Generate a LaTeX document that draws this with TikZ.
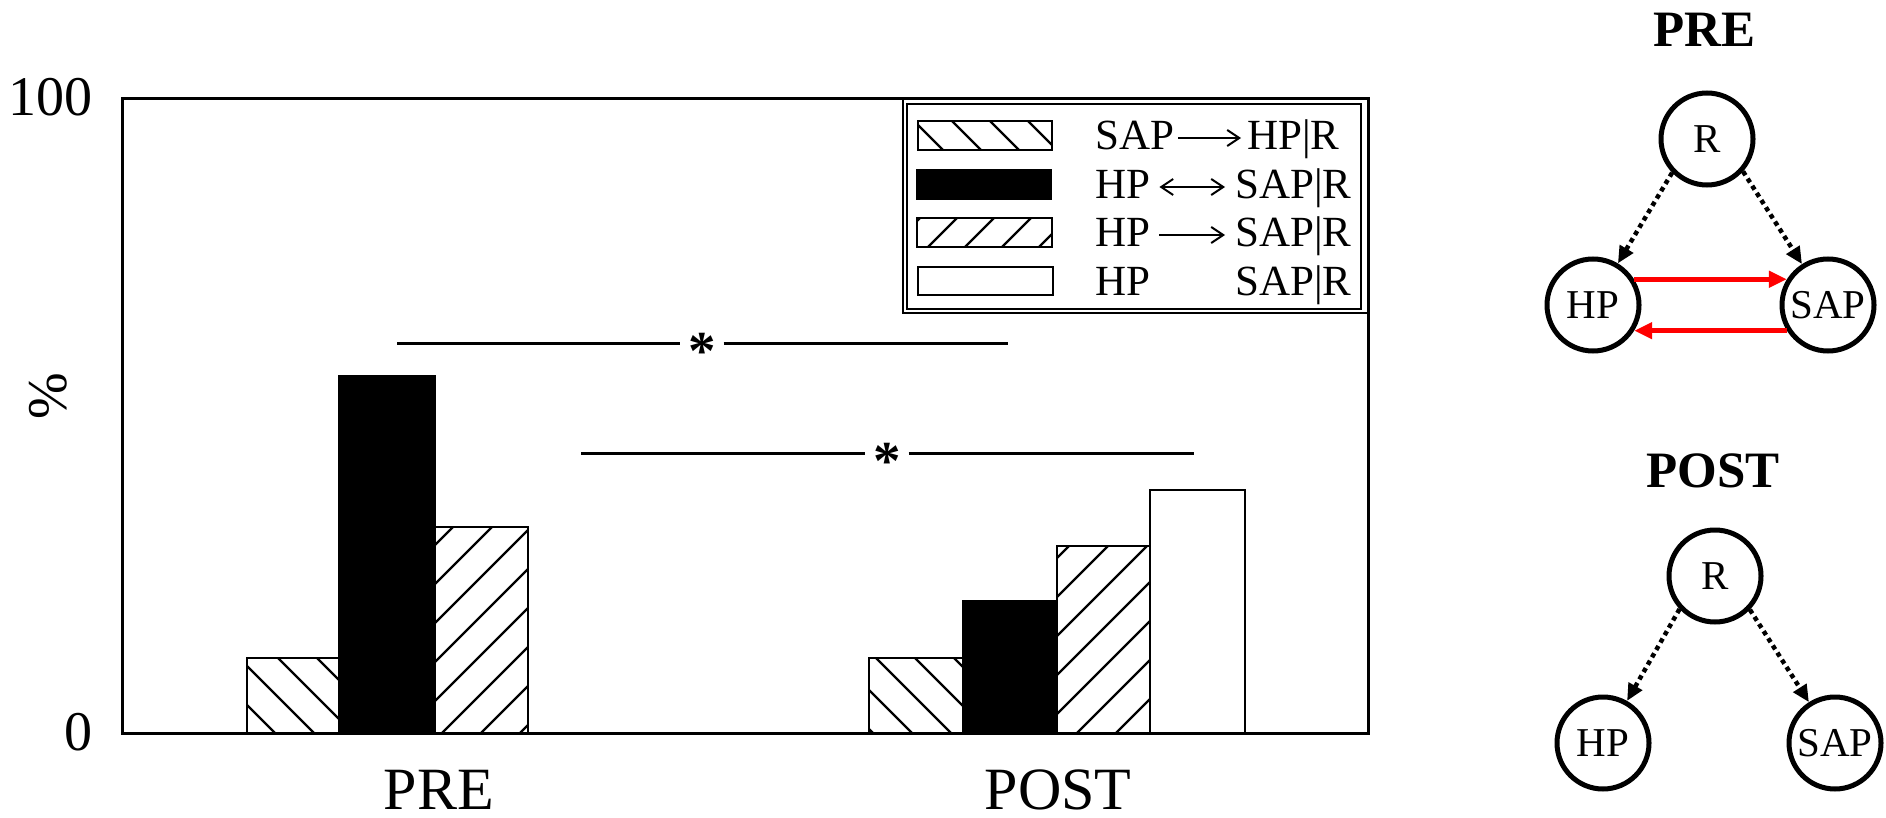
\documentclass[tikz,border=0pt]{standalone}
\usepackage{fontspec}
\setmainfont{Liberation Serif}
\usetikzlibrary{arrows.meta,calc}
\newcommand\myhatchbk[6]{% x1,y1,x2,y2,c0,step : lines x-y=c
  \begin{scope}
    \clip (#1,#2) rectangle (#3,#4);
    \foreach \k in {-14,...,14}{\draw[hatchline] ({#5+#6*\k+#2-80},{#2-80}) -- ({#5+#6*\k+#4+80},{#4+80});}
  \end{scope}}
\newcommand\myhatchfw[6]{% x1,y1,x2,y2,d0,step : lines x+y=d
  \begin{scope}
    \clip (#1,#2) rectangle (#3,#4);
    \foreach \k in {-14,...,14}{\draw[hatchline] ({#5+#6*\k-#2+80},{#2-80}) -- ({#5+#6*\k-#4-80},{#4+80});}
  \end{scope}}
\begin{document}
\begin{tikzpicture}[x=1pt,y=-1pt,
  frame/.style={line width=3pt},
  barbox/.style={draw=black,line width=2.6pt},
  hatchline/.style={line width=2.4pt},
  sigline/.style={line width=3pt},
  ticklab/.style={font=\fontsize{56}{60}\selectfont,anchor=east,inner sep=0pt},
  grouplab/.style={font=\fontsize{60}{66}\selectfont,inner sep=0pt},
  legtext/.style={font=\fontsize{43}{48}\selectfont,anchor=base west,inner sep=0pt},
  legarrow/.style={line width=2pt,-{Straight Barb[length=12pt,width=16pt]}},
  legdarrow/.style={line width=2pt,{Straight Barb[length=12pt,width=16pt]}-{Straight Barb[length=12pt,width=16pt]}},
  starlab/.style={font=\bfseries\fontsize{55}{60}\selectfont,inner sep=0pt,minimum width=43pt,anchor=base},
  netnode/.style={circle,draw,line width=5pt,minimum size=92pt,inner sep=0pt,font=\fontsize{41}{46}\selectfont},
  nettitle/.style={font=\bfseries\fontsize{51}{56}\selectfont,inner sep=0pt},
  dotarrow/.style={line width=4.5pt,dash pattern=on 4.5pt off 4pt,-{Triangle[length=17pt,width=15pt]}},
  redarrow/.style={draw=red,line width=4.5pt,-{Triangle[length=18pt,width=16pt]}}
]
\useasboundingbox (0,0) rectangle (1886,818);

% ---- bars PRE ----
\myhatchbk{247}{658}{339}{733}{-380}{39}
\draw[barbox] (247,658) rectangle (339,733);
\draw[barbox,fill=black] (339,376) rectangle (435,733);
\myhatchfw{435}{527}{528}{733}{980}{39}
\draw[barbox] (435,527) rectangle (528,733);
% ---- bars POST ----
\myhatchbk{869}{658}{963}{733}{257}{39}
\draw[barbox] (869,658) rectangle (963,733);
\draw[barbox,fill=black] (963,601) rectangle (1057,733);
\myhatchfw{1057}{546}{1150}{733}{1654}{39}
\draw[barbox] (1057,546) rectangle (1150,733);
\draw[barbox] (1150,490) rectangle (1245,733);

% ---- frame ----
\draw[frame] (122,99) rectangle (1368,733);

% ---- axis labels ----
\node[ticklab] (t100) at (93,97) {100};
\node[ticklab] (t0) at (93,732) {0};
\node[rotate=90,font=\fontsize{56}{60}\selectfont,inner sep=0pt] (ylab) at (48,396) {\%};
\node[grouplab] (gpre) at (439,790) {PRE};
\node[grouplab] (gpost) at (1058,790) {POST};

% ---- significance ----
\node[starlab] (st1) at (702,369) {*};
\coordinate (s1l) at (397,343);
\coordinate (s1r) at (1008,343);
\draw[sigline] (s1l) -- (st1.west |- s1l);
\draw[sigline] (st1.east |- s1r) -- (s1r);
\node[starlab] (st2) at (887,479) {*};
\coordinate (s2l) at (581,453);
\coordinate (s2r) at (1194,453);
\draw[sigline] (s2l) -- (st2.west |- s2l);
\draw[sigline] (st2.east |- s2r) -- (s2r);

% ---- legend ----
\draw[line width=2.2pt,fill=white] (903,99) rectangle (1368,313);
\draw[line width=2.2pt] (907,104) rectangle (1361,309);
\myhatchbk{918}{121}{1052}{150}{831}{38}
\draw[barbox] (918,121) rectangle (1052,150);
\draw[barbox,fill=black] (917,170) rectangle (1051,199);
\myhatchfw{917}{218}{1052}{247}{1175}{37}
\draw[barbox] (917,218) rectangle (1052,247);
\draw[barbox] (918,267) rectangle (1053,295);

\node[legtext] (l1a) at (1095,150) {SAP};
\node[legtext] (l1b) at (1247,150) {HP|R};
\node[legtext] (l2a) at (1095,199) {HP};
\node[legtext] (l2b) at (1235,199) {SAP|R};
\node[legtext] (l3a) at (1095,247) {HP};
\node[legtext] (l3b) at (1235,247) {SAP|R};
\node[legtext] (l4a) at (1095,295) {HP};
\node[legtext] (l4b) at (1235,295) {SAP|R};
\draw[legarrow] ([xshift=4pt,yshift=12pt]l1a.base east) -- ([xshift=-6pt,yshift=12pt]l1b.base west);
\draw[legdarrow] ([xshift=9pt,yshift=12pt]l2a.base east) -- ([xshift=-10pt,yshift=12pt]l2b.base west);
\draw[legarrow] ([xshift=9pt,yshift=12pt]l3a.base east) -- ([xshift=-10pt,yshift=12pt]l3b.base west);

% ---- PRE network ----
\node[nettitle] (tpre) at (1704,30) {PRE};
\node[netnode] (R1) at (1707,139) {R};
\node[netnode] (HP1) at (1593,305) {HP};
\node[netnode] (SAP1) at (1828,305) {SAP};
\draw[dotarrow] (R1.224) -- (HP1);
\draw[dotarrow] (R1.318) -- (SAP1);
\draw[redarrow] (HP1.32) -- (SAP1.148);
\draw[redarrow] (SAP1.212) -- (HP1.328);

% ---- POST network ----
\node[nettitle] (tpost) at (1713,471) {POST};
\node[netnode] (R2) at (1715,576) {R};
\node[netnode] (HP2) at (1603,743) {HP};
\node[netnode] (SAP2) at (1835,743) {SAP};
\draw[dotarrow] (R2.223) -- (HP2);
\draw[dotarrow] (R2.316) -- (SAP2);
\end{tikzpicture}
\end{document}
